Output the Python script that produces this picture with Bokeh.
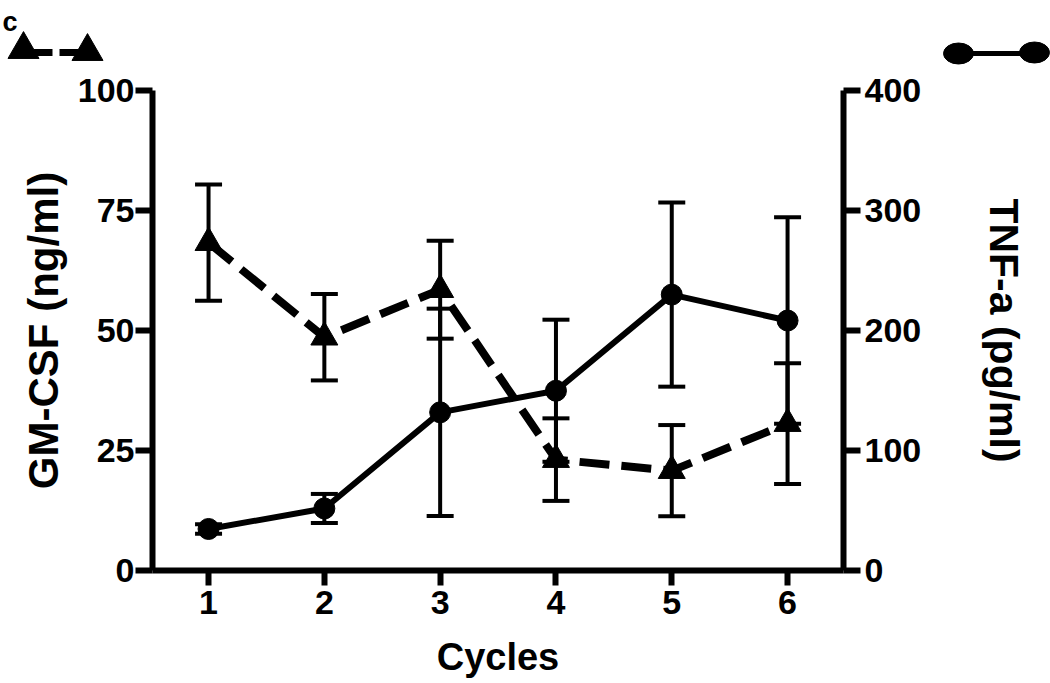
from bokeh.plotting import figure
from bokeh.models import Range1d, LinearAxis, FixedTicker, Whisker, ColumnDataSource, TeeHead, Label
from bokeh.layouts import column
from bokeh.embed import file_html
from bokeh.resources import INLINE

# ---- data ----
cycles = [1, 2, 3, 4, 5, 6]
gm_csf = [68.3, 48.6, 58.5, 23.1, 20.8, 30.6]          # ng/ml (left axis)
gm_csf_err = [12.1, 9.0, 10.2, 8.6, 9.5, 12.6]
tnf_a = [34.6, 51.7, 131.8, 149.8, 229.9, 208.3]        # pg/ml (right axis)
tnf_a_err = [4.0, 12.1, 86.4, 59.2, 76.7, 86.0]
gm_ticks = [0, 25, 50, 75, 100]
tnf_ticks = [0, 100, 200, 300, 400]
x_ticks = [1, 2, 3, 4, 5, 6]

FONT = "Liberation Sans"

gm_src = ColumnDataSource(dict(
    x=cycles, y=gm_csf,
    lo=[v - e for v, e in zip(gm_csf, gm_csf_err)],
    hi=[v + e for v, e in zip(gm_csf, gm_csf_err)]))
tnf_src = ColumnDataSource(dict(
    x=cycles, y=tnf_a,
    lo=[v - e for v, e in zip(tnf_a, tnf_a_err)],
    hi=[v + e for v, e in zip(tnf_a, tnf_a_err)]))

# ---- header with panel letter and legend keys ----
hdr = figure(width=1050, height=68, x_range=Range1d(0, 1050), y_range=Range1d(68, 0),
             toolbar_location=None, output_backend="svg",
             x_axis_location=None, y_axis_location=None, min_border=0)
hdr.frame_align = False
hdr.grid.visible = False
hdr.outline_line_color = None
hdr.add_layout(Label(x=2, y=21, text="c", text_font=FONT, text_font_size="27px",
                     text_font_style="bold", text_color="black", text_baseline="alphabetic"))
hdr.line([33, 78], [52, 52], line_width=7, line_dash="19 7", color="black")
hdr.scatter([23, 87], [49, 51], marker="triangle", size=31, color="black")
hdr.line([970, 1022], [53, 53], line_width=5, color="black")
hdr.ellipse([958, 1034], [53, 52], width=30, height=21, color="black")

# ---- main chart ----
p = figure(width=1050, height=615, x_range=Range1d(0.516, 6.483), y_range=Range1d(0, 100),
           toolbar_location=None, output_backend="svg",
           min_border_left=152, min_border_right=207, min_border_top=22, min_border_bottom=113)
p.frame_align = False
p.extra_y_ranges = {"tnf": Range1d(0, 400)}
p.grid.visible = False
p.outline_line_color = None

p.add_layout(LinearAxis(y_range_name="tnf", axis_label="TNF-a (pg/ml)"), "right")

for ax in p.axis:
    ax.axis_line_width = 6
    ax.major_tick_line_width = 6
    ax.major_tick_in = 0
    ax.minor_tick_line_color = None
    ax.major_label_text_font = FONT
    ax.major_label_text_font_style = "bold"
    ax.major_label_text_font_size = "34px"
    ax.major_label_text_color = "black"
    ax.axis_label_text_font = FONT
    ax.axis_label_text_font_style = "bold"
    ax.axis_label_text_font_size = "41px"
    ax.axis_label_text_color = "black"

xa = p.xaxis[0]
xa.ticker = FixedTicker(ticks=x_ticks)
xa.axis_label = "Cycles"
xa.axis_label_text_font_size = "38px"
xa.major_tick_out = 15
xa.major_label_standoff = 5
xa.axis_label_standoff = 19

ly = p.yaxis[0]
ly.ticker = FixedTicker(ticks=gm_ticks)
ly.axis_label = "GM-CSF (ng/ml)"
ly.axis_label_text_font_size = "42px"
ly.major_tick_out = 17
ly.major_label_standoff = 1
ly.axis_label_standoff = 8

ry = p.yaxis[1]
ry.ticker = FixedTicker(ticks=tnf_ticks)
ry.major_tick_out = 17
ry.major_label_standoff = 4
ry.axis_label_standoff = 57

# error bars
p.add_layout(Whisker(source=gm_src, base="x", upper="hi", lower="lo", line_width=4,
                     upper_head=TeeHead(size=27, line_width=4),
                     lower_head=TeeHead(size=27, line_width=4)))
p.add_layout(Whisker(source=tnf_src, base="x", upper="hi", lower="lo", line_width=4,
                     y_range_name="tnf",
                     upper_head=TeeHead(size=27, line_width=4),
                     lower_head=TeeHead(size=27, line_width=4)))

# series
p.line("x", "y", source=gm_src, line_width=8, line_dash="30 12", color="black")
p.scatter("x", "y", source=gm_src, marker="triangle", size=27, color="black")
p.line("x", "y", source=tnf_src, line_width=6, color="black", y_range_name="tnf")
p.scatter("x", "y", source=tnf_src, marker="circle", size=21, color="black", y_range_name="tnf")

layout = column(hdr, p)
open("out.html", "w").write(file_html(layout, INLINE))
